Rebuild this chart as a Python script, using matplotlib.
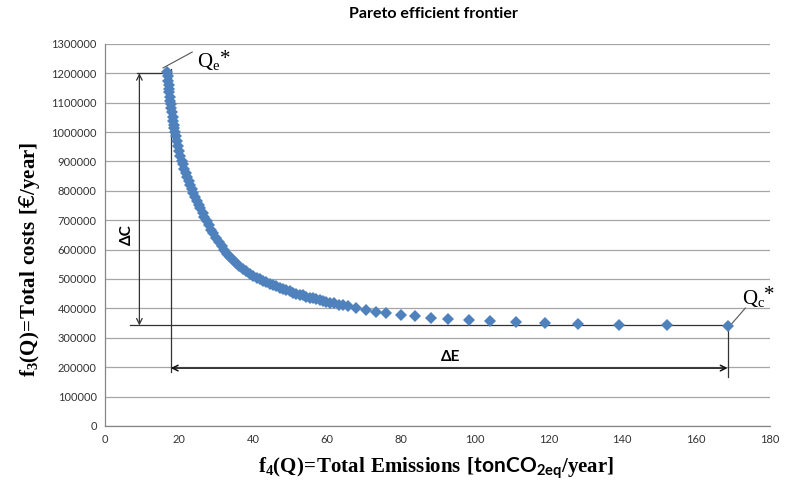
import numpy as np
import matplotlib.pyplot as plt

plt.rcParams['mathtext.fontset'] = 'custom'
plt.rcParams['mathtext.rm'] = 'Liberation Serif'
plt.rcParams['mathtext.bf'] = 'Liberation Serif:bold'
plt.rcParams['mathtext.sf'] = 'Lato:bold'

# pareto points: emissions [tonCO2eq/year], costs [k EUR/year]
emissions = [16.9, 17.0, 17.1, 17.2, 17.3, 17.4, 17.55, 17.7, 17.8, 17.95, 18.1, 18.3, 18.45,
             18.65, 18.8, 19.0, 19.25, 19.5, 19.8, 20.1, 20.4, 20.8, 21.1, 21.5, 21.8, 22.2,
             22.6, 23.0, 23.5, 23.9, 24.4, 24.9, 25.3, 25.8, 26.4, 26.9, 27.5, 28.1, 28.7,
             29.3, 30.1, 30.8, 31.6, 32.3, 33.1, 33.8, 34.6, 35.4, 36.3, 37.3, 38.2, 39.2,
             40.1, 41.0, 41.9, 42.8, 43.7, 44.6, 45.5, 46.4, 47.3, 48.2, 49.1, 50.0, 50.9,
             51.8, 52.7, 53.6, 54.5, 55.4, 56.3, 57.2, 58.1, 59.0, 59.9, 60.8, 61.9, 63.3,
             64.5, 65.7, 68.0, 70.7, 73.4, 76.1, 80.2, 83.9, 88.3, 92.8, 98.5, 104.3, 111.1,
             119.0, 128.1, 139.2, 152.1, 168.5]
costs = [1205, 1190, 1175, 1160, 1148, 1135, 1120, 1107, 1095, 1081, 1068, 1050, 1038,
         1025, 1013, 1000, 985, 970, 952, 936, 920, 902, 890, 875, 862, 848,
         834, 821, 806, 793, 780, 766, 753, 740, 724, 710, 696, 682, 668,
         656, 640, 625, 611, 598, 586, 575, 564, 554, 545, 535, 526, 518,
         511, 505, 499, 494, 489, 484, 479, 475, 470, 466, 462, 458, 454,
         450, 447, 444, 440, 437, 434, 431, 428, 425, 422, 420, 417, 413,
         410, 407, 400, 394, 389, 385, 378, 373, 368, 364, 360, 357, 353,
         350, 348, 345, 342, 340]
costs = [c * 1000 for c in costs]

title = 'Pareto efficient frontier'
blue = '#4F81BD'

fig = plt.figure(figsize=(7.85, 4.94), dpi=100)
ax = fig.add_axes([0.1338, 0.1377, 0.8472, 0.7736])

ax.plot(emissions, costs, linestyle='none', marker='D', markersize=6,
        color=blue, markeredgewidth=0, zorder=3)

ax.set_xlim(0, 180)
ax.set_ylim(0, 1300000)
ax.set_xticks(np.arange(0, 181, 20))
ax.set_yticks(np.arange(0, 1300001, 100000))
ax.set_yticklabels([str(v) for v in range(0, 1300001, 100000)])
ax.tick_params(length=0, labelsize=8, labelcolor='#333333', pad=6)
for lab in ax.get_xticklabels() + ax.get_yticklabels():
    lab.set_family('Lato')
ax.grid(axis='y', color='#a6a6a6', linewidth=0.9)
ax.set_axisbelow(True)
for s in ['top', 'right']:
    ax.spines[s].set_visible(False)
for s in ['left', 'bottom']:
    ax.spines[s].set_color('#868686')
    ax.spines[s].set_linewidth(0.9)

# annotation lines
x_e, y_e = emissions[0], costs[0]
x_c, y_c = emissions[-1], costs[-1]
lw = 0.9
ax.plot([8.7, 15.4], [1200000, 1200000], color='#333333', lw=lw, zorder=2)
ax.plot([6.8, x_c], [342000, 342000], color='#333333', lw=lw, zorder=2)
ax.plot([17.8, 17.8], [1215000, 184000], color='#333333', lw=lw, zorder=2)
ax.plot([x_c, x_c], [y_c, 165000], color='#333333', lw=lw, zorder=2)
ax.annotate('', xy=(9.3, 1200000), xytext=(9.3, 342000),
            arrowprops=dict(arrowstyle='<->', color='#333333', lw=lw,
                            shrinkA=0, shrinkB=0))
ax.annotate('', xy=(17.8, 197000), xytext=(x_c, 197000),
            arrowprops=dict(arrowstyle='<->', color='#111111', lw=1.1,
                            shrinkA=0, shrinkB=0))
ax.text(6.0, 650000, '\u0394C', rotation=90, ha='center', va='center',
        fontsize=11, fontweight='bold', family='Lato')
ax.text(93.4, 235000, '\u0394E', ha='center', va='center',
        fontsize=11, fontweight='bold', family='Lato')

# Qe* / Qc* labels
ax.plot([15.7, 23.6], [1218000, 1272000], color='#555555', lw=0.8, clip_on=False)
ax.text(25.0, 1240000, r'$\mathrm{Q_e}$', fontsize=15, ha='left', va='center',
        clip_on=False)
ax.text(31.0, 1245000, '*', fontsize=15, family='Liberation Serif', ha='left',
        va='center', clip_on=False)
ax.plot([169.3, 173.3], [343000, 401000], color='#555555', lw=0.8, clip_on=False)
ax.text(172.3, 435000, r'$\mathrm{Q_c}$', fontsize=15, ha='left', va='center',
        clip_on=False)
ax.text(178.4, 443000, '*', fontsize=15, family='Liberation Serif', ha='left',
        va='center', clip_on=False)

fig.text(0.552, 0.972, title, ha='center', va='center', fontsize=11.5,
         fontweight='bold', family='Lato')
fig.text(0.555, 0.052,
         r'$\mathbf{f_4(Q)\!=\!Total\ Emissions\ [}\mathsf{tonCO_{2eq}}\mathbf{/year]}$',
         ha='center', va='center', fontsize=15)
fig.text(0.038, 0.474, r'$\mathbf{f_3(Q)\!=\!Total\ costs\ [}$' + '\u20ac' + r'$\mathbf{/year]}$',
         ha='center', va='center', fontsize=15, rotation=90)

fig.savefig('out.png', dpi=100)
